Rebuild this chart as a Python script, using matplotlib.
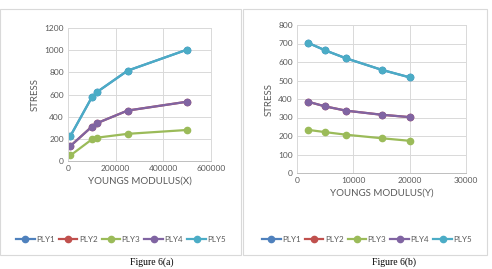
import matplotlib.pyplot as plt
from matplotlib.patches import Rectangle

# data
x_a = [10000, 100000, 120000, 250000, 500000]
ply1_a = [225, 575, 620, 815, 1005]
ply2_a = [135, 310, 340, 455, 535]
ply3_a = [50, 195, 210, 245, 280]
ply4_a = [135, 310, 340, 455, 535]
ply5_a = [225, 575, 620, 815, 1005]

x_b = [2000, 5000, 8700, 15000, 20000]
ply1_b = [703, 663, 620, 558, 517]
ply2_b = [385, 360, 337, 315, 302]
ply3_b = [233, 221, 207, 188, 174]
ply4_b = [385, 360, 337, 315, 302]
ply5_b = [703, 663, 620, 558, 517]

names = ['PLY1', 'PLY2', 'PLY3', 'PLY4', 'PLY5']
colors = ['#4F81BD', '#C0504D', '#9BBB59', '#8064A2', '#4BACC6']

W, H = 492, 269
fig = plt.figure(figsize=(W / 100, H / 100), dpi=100)
plt.rcParams['font.family'] = ['Lato', 'DejaVu Sans']
gray = '#595959'
grid = '#d9d9d9'


def px_axes(l, t, r, b):
    return fig.add_axes([l / W, 1 - b / H, (r - l) / W, (b - t) / H])


def frame(l, t, r, b):
    fig.patches.append(Rectangle((l / W, 1 - b / H), (r - l) / W, (b - t) / H,
                                 transform=fig.transFigure, fill=False,
                                 edgecolor='#d9d9d9', linewidth=0.8))


def draw(ax, x, series, xlim, xticks, ylim, yticks, xlabel):
    for s, name, c in zip(series, names, colors):
        ax.plot(x, s, color=c, marker='o', markersize=4.5, linewidth=1.6, label=name)
    ax.set_xlim(*xlim)
    ax.set_ylim(*ylim)
    ax.set_xticks(xticks)
    ax.set_yticks(yticks)
    ax.grid(True, color=grid, linewidth=0.7)
    ax.set_axisbelow(True)
    for sp in ax.spines.values():
        sp.set_color(grid)
        sp.set_linewidth(0.7)
    ax.spines['bottom'].set_color('#bfbfbf')
    ax.tick_params(length=0, labelsize=6, colors=gray, pad=3)
    ax.set_xlabel(xlabel, fontsize=7, color=gray, labelpad=3)
    ax.set_ylabel('STRESS', fontsize=7, color=gray, labelpad=3)


frame(0, 9, 241, 255)
frame(243, 9, 487, 255)

ax1 = px_axes(68, 28, 211, 161)
draw(ax1, x_a, [ply1_a, ply2_a, ply3_a, ply4_a, ply5_a], (0, 600000),
     [0, 200000, 400000, 600000], (0, 1200), range(0, 1201, 200),
     'YOUNGS MODULUS(X)')

ax2 = px_axes(297, 25, 466, 173)
draw(ax2, x_b, [ply1_b, ply2_b, ply3_b, ply4_b, ply5_b], (0, 30000),
     [0, 10000, 20000, 30000], (0, 800), range(0, 801, 100),
     'YOUNGS MODULUS(Y)')

for ax, cx in [(ax1, 121), (ax2, 367)]:
    h, l = ax.get_legend_handles_labels()
    fig.legend(h, l, loc='center', bbox_to_anchor=(cx / W, 1 - 239 / H),
               ncol=5, fontsize=5.8, frameon=False, handlelength=2.3,
               handletextpad=0.2, columnspacing=0.5, labelcolor=gray,
               borderpad=0, borderaxespad=0)

fig.text(152 / W, 1 - 262 / H, 'Figure 6(a)', ha='center', va='center',
         fontsize=7, family='Liberation Serif')
fig.text(394 / W, 1 - 262 / H, 'Figure 6(b)', ha='center', va='center',
         fontsize=7, family='Liberation Serif')

fig.savefig('out.png', dpi=100)
